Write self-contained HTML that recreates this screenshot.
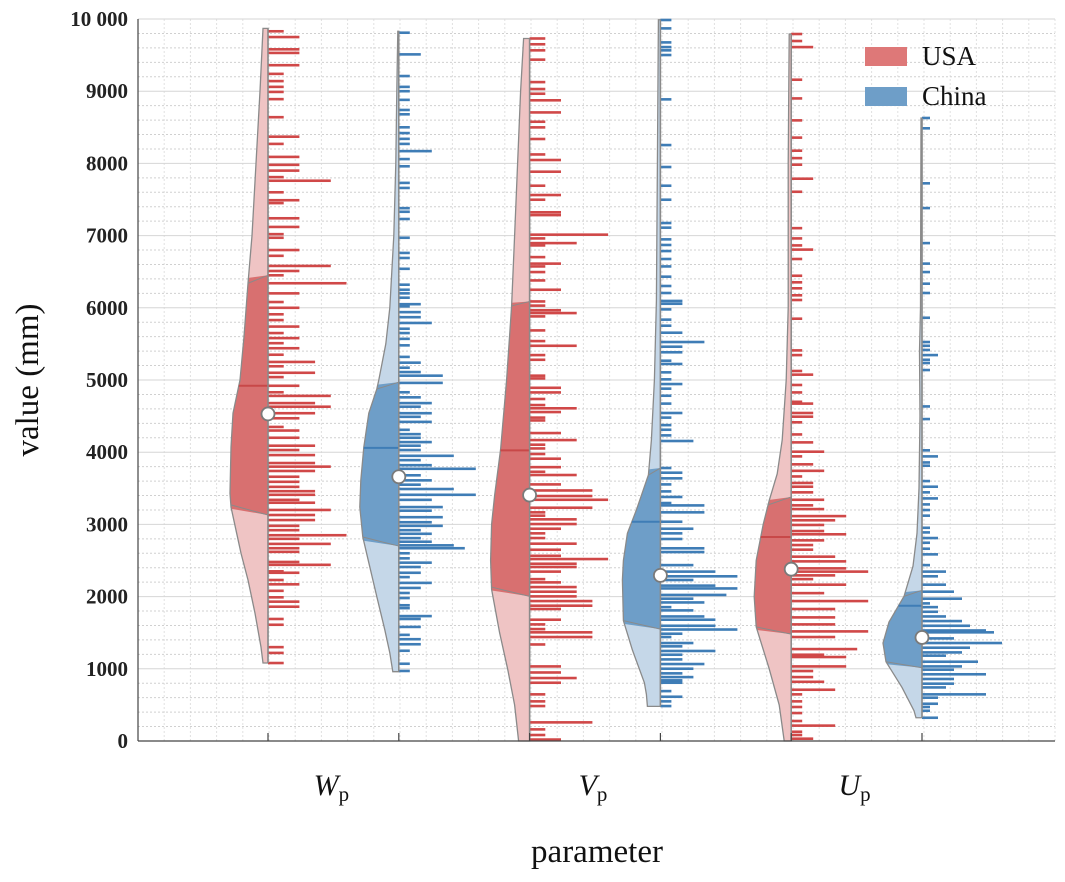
<!DOCTYPE html>
<html><head><meta charset="utf-8"><style>
html,body{margin:0;padding:0;background:#fff;}
svg{display:block;font-family:"Liberation Serif",serif;}
</style></head><body>
<svg id="chart" width="1065" height="882" viewBox="0 0 1065 882" xmlns="http://www.w3.org/2000/svg">
<g id="grid"></g>
<g id="violins"></g>
<g id="axes"></g>
<g>
<rect x="865" y="47" width="42" height="19" fill="#de7878"/>
<text x="922" y="65" font-size="27" fill="#111">USA</text>
<rect x="865" y="87" width="42" height="19" fill="#6e9ec8"/>
<text x="922" y="105" font-size="27" fill="#111">China</text>
</g>
<text transform="translate(38,380) rotate(-90)" text-anchor="middle" font-size="33" fill="#111">value (mm)</text>
<text x="597" y="862" text-anchor="middle" font-size="33" fill="#111">parameter</text>
</svg>
<script>
// ---- data ----
const yTicks = [0,1000,2000,3000,4000,5000,6000,7000,8000,9000,10000];
const yTickLabels = ["0","1000","2000","3000","4000","5000","6000","7000","8000","9000","10 000"];
const categories = ["W","V","U"];
const groupNames = ["wp-usa","wp-china","vp-usa","vp-china","up-usa","up-china"];
const groupCountry = ["usa","china","usa","china","usa","china"];
const barUnits = [15.7,11,15.7,11,11,8];

const means = [4530,3660,3406,2294,2380,1434];
const medians = [4920,4060,4026,3037,2825,1874];
const q3Edge = [6340,4875,6026,3684,3270,2003];
const q3Center = [6450,4970,6088,3781,3380,2087];
const q1Edge = [3270,2825,2132,1667,1580,1098];
const q1Center = [3130,2700,2003,1550,1480,1014];

const wpUsaProfile = [[9870,5],[9000,8],[8000,12],[7000,16],[6340,20],[5600,24],[5000,28],[4540,35],[4070,37],[3430,38],[3240,37],[2920,32],[2600,27],[2230,20],[1770,13],[1300,7],[1080,5]];
const wpChinaProfile = [[9830,1],[9000,2],[8000,3],[7000,5],[6500,7],[6000,9],[5500,13],[5000,20],[4875,22],[4540,30],[4070,35],[3610,38],[3240,39],[2825,36],[2470,30],[2000,22],[1540,14],[1220,9],[960,6]];
const vpUsaProfile = [[9730,6],[9000,9],[8000,12],[7000,15],[6026,18],[5000,23],[4039,29],[3400,35],[3000,38],[2500,39],[2100,38],[1500,30],[1000,22],[500,15],[0,11]];
const vpChinaProfile = [[9990,2],[8000,3],[6100,4],[5000,6],[4170,9],[3684,12],[3200,24],[2876,33],[2500,37],[2230,38],[1667,37],[1260,28],[807,16],[646,14],[480,13]];
const upUsaProfile = [[9792,2],[8000,3],[6000,3],[5000,5],[4170,9],[3700,14],[3330,22],[3000,28],[2500,35],[2000,37],[1580,35],[1000,22],[500,12],[0,7]];
const upChinaProfile = [[8629,1],[6000,1.5],[5400,2.5],[4500,2],[3500,3],[2876,5],[2423,9],[2003,18],[1648,33],[1357,39],[1098,36],[742,20],[419,8],[322,6]];

const wpUsaValues = [9830,9750,9580,9530,9360,9240,9140,9060,8990,8890,8640,8370,8270,8090,7980,7900,7810,7760,7600,7490,7450,7240,7120,7020,6970,6800,6720,6580,6510,6450,6340,6200,6080,6000,5910,5830,5740,5650,5580,5510,5440,5350,5250,5190,5100,5040,4920,4830,4780,4680,4630,4540,4470,4350,4300,4200,4090,4030,3960,3850,3800,3740,3660,3590,3520,3460,3410,3340,3300,3200,3130,3060,2980,2920,2850,2800,2730,2670,2620,2480,2440,2350,2330,2230,2170,2080,1990,1930,1860,1690,1610,1300,1220,1080];
const wpUsaCounts = [1,2,2,2,2,1,1,1,1,1,1,2,1,2,2,2,1,4,1,2,1,2,2,1,1,2,1,4,2,1,5,2,1,2,1,1,2,1,2,1,2,1,3,1,3,1,2,1,4,3,4,3,2,1,2,2,3,2,3,3,4,3,2,2,2,3,3,2,3,4,3,3,2,2,5,2,4,2,2,2,4,1,2,1,2,1,1,2,2,1,1,1,1,1];
const wpChinaValues = [9810,9510,9210,9060,9000,8880,8740,8680,8500,8420,8340,8270,8170,8060,7960,7730,7660,7380,7330,7230,6970,6760,6690,6540,6320,6250,6200,6140,6050,6020,5940,5870,5790,5710,5650,5570,5480,5320,5240,5170,5110,5060,4960,4830,4760,4680,4630,4540,4490,4420,4310,4250,4200,4140,4090,4030,3950,3890,3820,3770,3680,3610,3550,3490,3410,3340,3240,3190,3100,3030,2980,2920,2870,2810,2760,2710,2670,2600,2530,2470,2410,2330,2270,2190,2120,2050,1980,1880,1840,1730,1690,1580,1470,1410,1340,1250,1070,970];
const wpChinaCounts = [1,2,1,1,1,1,1,1,1,1,1,1,3,1,1,1,1,1,1,1,1,1,1,1,1,1,1,1,2,1,2,2,3,1,1,1,1,1,2,1,2,4,4,1,2,3,2,3,2,3,1,2,2,3,2,2,5,2,3,7,2,3,2,5,7,3,4,3,4,3,4,2,3,2,3,5,6,1,1,3,2,2,1,3,2,1,1,1,1,3,2,2,1,2,2,1,1,1];
const vpUsaValues = [9730,9650,9566,9437,9126,9030,8965,8874,8706,8577,8499,8338,8124,8047,7885,7691,7562,7497,7323,7284,7013,6961,6896,6864,6702,6612,6573,6495,6379,6250,6088,6030,5966,5927,5881,5687,5539,5474,5345,5280,5060,5022,4892,4828,4737,4653,4608,4556,4479,4440,4265,4168,4104,4052,3975,3910,3793,3729,3684,3554,3470,3393,3341,3231,3167,3121,3070,3005,2940,2876,2811,2733,2649,2565,2520,2455,2410,2346,2242,2197,2132,2068,2003,1938,1874,1828,1680,1615,1550,1505,1440,1337,1033,949,872,807,646,549,484,258,161,83,20];
const vpUsaCounts = [1,1,1,1,1,1,1,2,2,1,1,1,1,2,2,1,2,1,2,2,5,1,3,1,1,2,1,1,1,2,1,1,2,3,1,1,1,3,1,1,1,1,2,2,1,1,3,2,1,1,2,3,1,1,1,2,2,1,3,2,4,4,5,4,1,1,3,3,2,1,1,3,2,2,5,3,3,2,1,2,3,3,3,4,4,2,2,1,1,4,4,1,2,2,3,2,1,1,1,4,1,1,2];
const vpChinaValues = [9986,9870,9676,9611,9566,9501,8887,8254,7950,7691,7497,7174,7110,6948,6870,6786,6676,6573,6431,6302,6205,6095,6056,5978,5836,5752,5655,5526,5461,5384,5267,5222,5106,5009,4944,4880,4782,4673,4543,4479,4375,4311,4233,4155,3781,3716,3638,3554,3457,3380,3296,3263,3167,3037,2940,2876,2798,2669,2617,2436,2346,2281,2230,2152,2113,2023,1971,1919,1854,1809,1725,1680,1596,1544,1486,1440,1357,1311,1247,1195,1130,1066,1001,937,885,840,807,691,613,549,484];
const vpChinaCounts = [1,1,1,1,1,1,1,1,1,1,1,1,1,1,1,1,1,1,1,1,1,2,2,1,1,1,2,4,2,2,1,2,1,1,2,1,1,1,2,1,1,1,1,3,1,2,2,1,1,2,1,4,4,2,3,2,2,4,4,3,5,7,3,5,7,6,3,4,1,3,4,5,5,7,2,1,3,2,5,2,2,4,3,2,3,2,2,1,2,1,1];
const upUsaValues = [9792,9695,9611,9159,8900,8596,8357,8176,8073,7982,7788,7607,7103,6961,6864,6806,6676,6444,6353,6270,6173,6108,5849,5410,5345,5125,5074,4931,4828,4698,4673,4543,4492,4414,4246,4136,4007,3942,3832,3742,3664,3574,3522,3444,3341,3264,3212,3115,3057,2992,2908,2863,2779,2714,2650,2553,2488,2391,2346,2294,2242,2165,2048,1938,1828,1712,1615,1518,1440,1273,1195,1163,1033,969,885,820,710,646,549,471,387,277,213,128,83,32];
const upUsaCounts = [1,1,2,1,1,1,1,1,1,1,2,1,1,1,1,2,1,1,1,1,1,1,1,1,1,1,2,1,1,1,2,2,2,1,1,2,3,1,2,3,1,2,2,2,3,2,3,5,4,3,3,5,3,2,2,4,5,5,7,4,2,5,3,7,4,4,4,7,4,6,3,5,5,2,2,3,4,1,1,1,1,1,4,1,1,2];
const upChinaValues = [8629,8486,7724,7381,6896,6612,6495,6334,6205,5862,5526,5474,5416,5345,5280,5235,5138,4634,4459,4026,3942,3858,3813,3600,3522,3444,3360,3277,3199,3121,2953,2889,2811,2746,2663,2585,2436,2346,2281,2165,2068,1971,1906,1854,1790,1725,1661,1596,1531,1505,1421,1357,1292,1227,1182,1098,1033,988,924,859,794,742,646,600,516,471,419,322];
const upChinaCounts = [1,1,1,1,1,1,1,1,1,1,1,1,1,2,1,1,1,1,1,1,2,1,1,1,2,1,2,1,1,1,1,1,2,1,1,2,1,3,2,3,4,5,1,2,2,3,5,6,8,9,4,10,6,5,3,7,5,4,8,4,4,3,8,2,2,1,1,2];

const profiles = [wpUsaProfile,wpChinaProfile,vpUsaProfile,vpChinaProfile,upUsaProfile,upChinaProfile];
const valueSets = [wpUsaValues,wpChinaValues,vpUsaValues,vpChinaValues,upUsaValues,upChinaValues];
const countSets = [wpUsaCounts,wpChinaCounts,vpUsaCounts,vpChinaCounts,upUsaCounts,upChinaCounts];

// ---- scales ----
const X0 = 138, X1 = 1055, Y0 = 741, Y1 = 19;
const yScale = v => Y0 - (v / 10000) * (Y0 - Y1);
const groupX = i => 268 + i * 130.8;
const catX = k => (groupX(2 * k) + groupX(2 * k + 1)) / 2;

const NS = "http://www.w3.org/2000/svg";
function mk(tag, attrs, parent) {
  const e = document.createElementNS(NS, tag);
  for (const k in attrs) e.setAttribute(k, attrs[k]);
  parent.appendChild(e);
  return e;
}
const colors = {
  usa: {light:"#efc4c4", dark:"#d87070", bar:"#d04848", med:"#c84848"},
  china: {light:"#c5d7e8", dark:"#6e9ec8", bar:"#3f7db6", med:"#3f7db6"}
};

// ---- grid ----
const grid = document.getElementById("grid");
for (let k = 1; k <= 35; k++) {
  const x = X0 + k * (X1 - X0) / 35;
  const l = mk("line", {x1:x, x2:x, y1:Y1, y2:Y0, stroke:"#e0e0e0", "stroke-width":1, "stroke-dasharray":"2,2"}, grid);
  
  
}
for (let v = 200; v <= 10000; v += 200) {
  const y = yScale(v);
  const major = v % 1000 === 0;
  const l = mk("line", {x1:X0, x2:X1, y1:y, y2:y, stroke: major ? "#d6d6d6" : "#d0d0d0", "stroke-width":1, "stroke-dasharray": major ? "none" : "2,2"}, grid);
  
  
}

// ---- violins ----
const vg = document.getElementById("violins");
const defs = mk("defs", {}, vg);
function widthAt(prof, v) {
  for (let j = 0; j < prof.length - 1; j++) {
    const a = prof[j], b = prof[j + 1];
    if (v <= a[0] && v >= b[0]) return a[1] + (b[1] - a[1]) * (a[0] - v) / (a[0] - b[0]);
  }
  return 0;
}
for (let i = 0; i < 6; i++) {
  const c = groupX(i), prof = profiles[i], col = colors[groupCountry[i]];
  const g = mk("g", {}, vg);
  
  
  let pts = prof.map(p => (c - p[1]) + "," + yScale(p[0]));
  pts.push(c + "," + yScale(prof[prof.length - 1][0]));
  pts.unshift(c + "," + yScale(prof[0][0]));
  const ptsStr = pts.join(" ");
  const light = mk("polygon", {points: ptsStr, fill: col.light}, g);
  
  
  const cp = mk("clipPath", {id: "clip" + i}, defs);
  mk("polygon", {points: [(c-60)+","+yScale(q3Edge[i]), c+","+yScale(q3Center[i]), c+","+yScale(q1Center[i]), (c-60)+","+yScale(q1Edge[i])].join(" ")}, cp);
  const dark = mk("polygon", {points: ptsStr, fill: col.dark, "clip-path": "url(#clip" + i + ")"}, g);
  
  
  [[q3Edge[i], q3Center[i]], [q1Edge[i], q1Center[i]]].forEach(q => {
    const we = widthAt(prof, q[0]);
    const ql = mk("line", {x1: c - we, y1: yScale(q[0]), x2: c, y2: yScale(q[1]), stroke:"#8a8a8a", "stroke-width":1}, g);
    
    
  });
  const outline = mk("polygon", {points: ptsStr, fill: "none", stroke: "#8a8a8a", "stroke-width": 1.3}, g);
  
  
  const mw = widthAt(prof, medians[i]);
  const ml = mk("line", {x1: c - mw, x2: c, y1: yScale(medians[i]), y2: yScale(medians[i]), stroke: col.med, "stroke-width": 2}, g);
  
  
  const vals = valueSets[i], cnts = countSets[i];
  for (let j = 0; j < vals.length; j++) {
    const y = yScale(vals[j]);
    const b = mk("rect", {x: c, y: y - 1.3, width: cnts[j] * barUnits[i], height: 2.6, fill: col.bar}, g);
    
    
  }
  const cl = mk("line", {x1: c, x2: c, y1: yScale(prof[0][0]), y2: yScale(prof[prof.length-1][0]), stroke: "#8a8a8a", "stroke-width": 1.5}, g);
  
  
  const m = mk("circle", {cx: c, cy: yScale(means[i]), r: 6.5, fill: "#fff", stroke: "#7a7a7a", "stroke-width": 1.8}, g);
  
  
}

// ---- axes ----
const ax = document.getElementById("axes");
let a = mk("line", {x1: X0, x2: X0, y1: Y1, y2: Y0, stroke: "#444", "stroke-width": 1.2}, ax);


a = mk("line", {x1: X0, x2: X1, y1: Y0, y2: Y0, stroke: "#444", "stroke-width": 1.2}, ax);


yTicks.forEach((v, k) => {
  const y = yScale(v);
  const t = mk("text", {x: 128, y: y + 7, "text-anchor": "end", "font-size": 21, "font-weight": "bold", fill: "#222"}, ax);
  t.textContent = yTickLabels[k];
  
  
});
for (let i = 0; i < 6; i++) {
  const x = groupX(i);
  const tk = mk("line", {x1: x, x2: x, y1: Y0, y2: Y0 - 8, stroke: "#444", "stroke-width": 1.2}, ax);
  
  
}
categories.forEach((cName, k) => {
  const t = mk("text", {x: catX(k) - 2, y: 795, "text-anchor": "middle", "font-size": 30, fill: "#111"}, ax);
  
  
  const s1 = mk("tspan", {"font-style": "italic"}, t);
  s1.textContent = cName;
  const s2 = mk("tspan", {"font-size": 21, dy: 6}, t);
  s2.textContent = "p";
});
</script>
</body></html>
